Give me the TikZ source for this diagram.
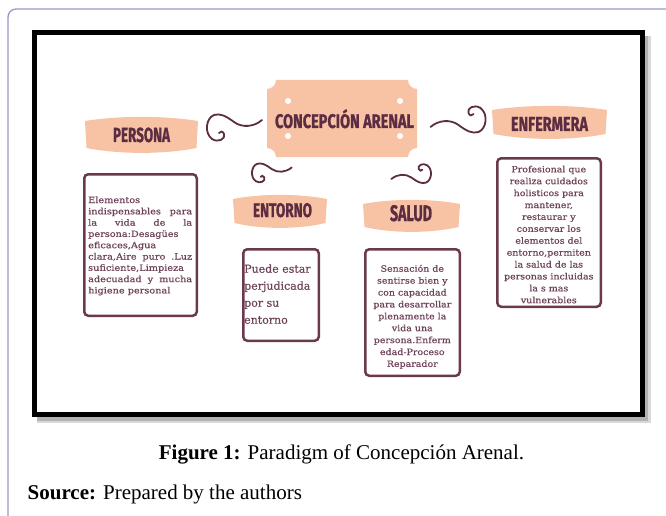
\documentclass[tikz,border=0pt]{standalone}
\usepackage{fontspec}
\usepackage{graphicx}
\setmainfont{Liberation Serif}
\newfontfamily\headfont{Fira Sans}[BoldFeatures={FakeBold=1.3}]
\newfontfamily\boxfont{DejaVu Serif}[FakeBold=0.4]
\definecolor{peach}{HTML}{F8C3A5}
\definecolor{maroon}{HTML}{5C2D42}
\definecolor{boxline}{HTML}{6A3A4C}
\definecolor{boxtext}{HTML}{6E4258}
\definecolor{lavender}{HTML}{9A97C6}
\newcommand{\headtext}[3]{\resizebox{#1}{#2}{\headfont\bfseries #3}}
\tikzset{
  textbox/.style={draw=boxline, line width=2.5pt, rounded corners=4pt, fill=white, inner sep=0pt},
  headlabel/.style={anchor=base, inner sep=0pt, text=maroon},
  bodytext/.style={inner sep=0pt, text=boxtext},
  swirlline/.style={draw=maroon, line width=1.8pt, line cap=round},
  pics/swirl/.style={code={
    \draw[swirlline] (28,-7) .. controls (20,0) and (8,1) .. (0,-5)
      .. controls (-8,-11) and (-14,-14) .. (-20,-12)
      .. controls (-28,-9) and (-30,6) .. (-22,12)
      .. controls (-16,16) and (-8,12) .. (-10,7)
      .. controls (-11,4) and (-14,4) .. (-15,6);
  }}
}
% banner: x0 x1 ytop ybottom
\newcommand{\banner}[4]{%
  \fill[peach] (#1,#3) .. controls ({#1+0.3*(#2-#1)},#3-5.5) and ({#2-0.3*(#2-#1)},#3-5.5) .. (#2,#3)
    -- ({#2-1.5},#4) .. controls ({#2-0.3*(#2-#1)},#4+6.5) and ({#1+0.3*(#2-#1)},#4+6.5) .. ({#1+1.5},#4) -- cycle;}
\begin{document}
\begin{tikzpicture}[x=1pt,y=-1pt]
\useasboundingbox (0,0) rectangle (666,516);
\fill[white] (0,0) rectangle (666,516);
% outer lavender frame
\draw[lavender, line width=1.3pt, rounded corners=8pt] (8,516) -- (8,9) -- (666,9);
% shadow of black frame
\fill[black!15] (37,416) rectangle (651,423);
\fill[black!15] (644,36) rectangle (651,423);
\fill[black!30] (37,416) rectangle (648,420.5);
\fill[black!30] (644,36) rectangle (648,420.5);
% black frame
\draw[black, line width=5pt] (34.5,32.5) rectangle (642.5,414.5);

% title ticket
\fill[peach] (276,80) -- (408,80) arc[start angle=180, end angle=90, radius=9]
  -- (417,148) arc[start angle=270, end angle=180, radius=9]
  -- (276,157) arc[start angle=360, end angle=270, radius=9]
  -- (267,89) arc[start angle=90, end angle=0, radius=9] -- cycle;
\foreach \px/\py in {288/101, 288/136, 400/101, 400/136}
  \fill[white] (\px,\py) circle[radius=3];
\node[headlabel] (title) at (344.5,128) {\headtext{139pt}{14pt}{CONCEPCI\smash{Ó}N ARENAL}};

% banners
\banner{85}{198}{121}{148}
\node[headlabel] (persona) at (141.5,142) {\headtext{57pt}{14.5pt}{PERSONA}};
\banner{492}{607}{110}{134}
\node[headlabel] (enfermera) at (549.5,131) {\headtext{77pt}{14pt}{ENFERMERA}};
\banner{233}{327}{199}{223}
\node[headlabel] (entorno) at (282.5,217) {\headtext{59pt}{14pt}{ENTORNO}};
\banner{363}{460}{204}{227}
\node[headlabel] (salud) at (411,221) {\headtext{42pt}{16pt}{SALUD}};

% swirls
\pic at (234,127) {swirl};
\pic[rotate=180] at (458.5,120) {swirl};
\pic[scale=0.72] at (271.5,172.5) {swirl};
\pic[scale=0.72, rotate=180] at (411.5,174) {swirl};

% text boxes
\node[textbox, minimum width=112.5pt, minimum height=141.5pt] (personabox) at (140.5,245) {};
\node[textbox, minimum width=75.5pt, minimum height=91.5pt] (entornobox) at (281,295) {};
\node[textbox, minimum width=94.5pt, minimum height=126.5pt] (saludbox) at (412.5,312.5) {};
\node[textbox, minimum width=103.5pt, minimum height=148.5pt] (enfbox) at (549,232.5) {};

\node[bodytext, anchor=base west] (personatext) at (88,203) {\scalebox{1.13}[1]{\parbox[t]{92pt}{\boxfont\fontsize{8.6}{11.3}\selectfont\tolerance=10000\hbadness=10000\hyphenpenalty=10000
Elementos\linebreak indispensables para\linebreak la vida de la\linebreak persona:Desagües\linebreak eficaces,Agua\linebreak clara,Aire puro .Luz\linebreak suficiente,Limpieza\linebreak adecuadad y mucha\linebreak higiene personal}}};

\node[bodytext, anchor=base west] (entornotext) at (244,272.7) {\parbox[t]{74pt}{\raggedright\boxfont\fontsize{11}{17}\selectfont Puede estar\\ perjudicada\\ por su\\ entorno}};

\node[bodytext, anchor=base] (saludtext) at (412.3,271.7) {\scalebox{1.1}[1]{\parbox[t]{84pt}{\centering\boxfont\fontsize{8.6}{11.9}\selectfont Sensación de\\ sentirse bien y\\ con capacidad\\ para desarrollar\\ plenamente la\\ vida una\\ persona.Enferm\\ edad-Proceso\\ Reparador}}};

\node[bodytext, anchor=base] (enftext) at (548.8,172.3) {\scalebox{1.1}[1]{\parbox[t]{90pt}{\centering\boxfont\fontsize{8.6}{11.9}\selectfont Profesional que\\ realiza cuidados\\ holisticos para\\ mantener,\\ restaurar y\\ conservar los\\ elementos del\\ entorno,permiten\\ la salud de las\\ personas incluidas\\ la s mas\\ vulnerables}}};

% caption
\node[anchor=base, inner sep=0pt] (caption) at (341.5,459) {\fontsize{21}{24}\selectfont\textbf{Figure 1:} Paradigm of Concepción Arenal.};
\node[anchor=base west, inner sep=0pt] (source) at (27.5,499) {\fontsize{21}{24}\selectfont\textbf{Source:} Prepared by the authors};
\end{tikzpicture}
\end{document}
